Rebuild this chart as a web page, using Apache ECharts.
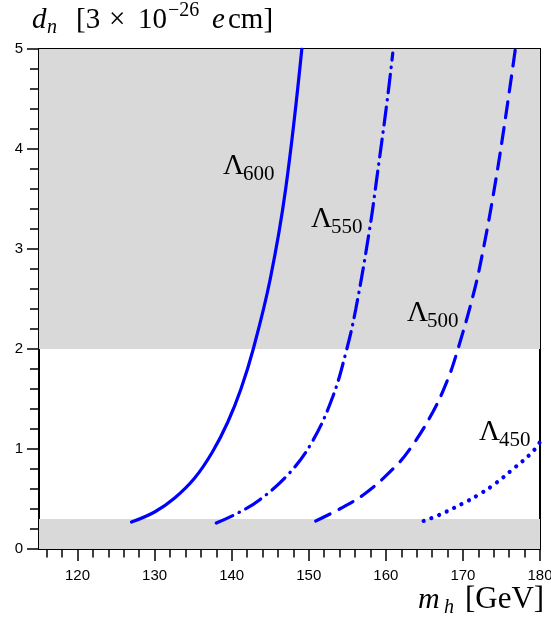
<!DOCTYPE html>
<html>
<head>
<meta charset="utf-8">
<script src="https://cdn.jsdelivr.net/npm/echarts@6/dist/echarts.min.js"></script>
<style>
  html, body { margin: 0; padding: 0; background: #fff; }
  #chart { width: 551px; height: 622px; }
</style>
</head>
<body>
<div id="chart"></div>
<script>
// values: m_h [GeV] against d_n [3e-26 e cm]
var mh600 = [127, 130, 132.6, 135.2, 137.5, 139.5, 141.2, 142.8, 145, 147, 149.1];
var dn600 = [0.27, 0.37, 0.51, 0.71, 0.97, 1.27, 1.6, 2.0, 2.7, 3.6, 5.0];

var mh550 = [138, 140.8, 143.6, 147.5, 150.5, 153.1, 154.8, 156.1, 157.9, 158.9, 160.2, 160.9];
var dn550 = [0.26, 0.36, 0.49, 0.76, 1.08, 1.52, 1.96, 2.4, 3.2, 3.75, 4.5, 4.96];

var mh500 = [150.9, 154, 157.4, 161.3, 163.4, 166.1, 168, 169.2, 171.4, 172.7, 174.2, 175.5, 176.8];
var dn500 = [0.28, 0.4, 0.56, 0.83, 1.03, 1.37, 1.69, 1.96, 2.56, 3.02, 3.66, 4.3, 5.0];

var mh450 = [164.9, 166.9, 170.1, 172.2, 174.3, 176.5, 178.9, 180];
var dn450 = [0.28, 0.34, 0.46, 0.55, 0.66, 0.80, 0.96, 1.07];

var curveNames = ['600', '550', '500', '450'];

// excluded (shaded) d_n ranges
var bandLow = [0, 0.3];
var bandHigh = [2, 5];

var xMajorTicks = [120, 130, 140, 150, 160, 170, 180];
var xMinorTicks = [116, 118, 120, 122, 124, 126, 128, 130, 132, 134, 136, 138, 140, 142, 144, 146, 148,
                   150, 152, 154, 156, 158, 160, 162, 164, 166, 168, 170, 172, 174, 176, 178, 180];

function zip(xs, ys) {
    return xs.map(function (x, i) { return [x, ys[i]]; });
}

var blue = '#0000ff';
var serif = '"Liberation Serif", "DejaVu Serif", serif';
var sans = '"Liberation Sans", Arial, sans-serif';

var myChart = echarts.init(document.getElementById('chart'), null, { renderer: 'canvas' });

function curve(name, data, dash, width) {
    return {
        name: name,
        type: 'line',
        data: data,
        smooth: 0.4,
        showSymbol: false,
        silent: true,
        z: 4,
        lineStyle: { color: blue, width: width, type: dash, cap: 'round' }
    };
}

// one text piece placed by its baseline
function txt(s, x, base, size, italic) {
    return {
        type: 'text',
        silent: true,
        z: 100,
        style: {
            text: s,
            x: x,
            y: base - size * 0.31,
            font: (italic ? 'italic ' : '') + size + 'px ' + serif,
            fill: '#000',
            align: 'left',
            verticalAlign: 'middle'
        }
    };
}

function lambda(sub, x, base) {
    return [txt('\u039B', x, base, 29, false), txt(sub, x + 20, base + 6, 21, false)];
}

var graphics = [
    // y title
    txt('d', 32, 29, 29, true),
    txt('n', 47, 34, 20, true),
    txt('[3', 76, 29, 29, false),
    txt('\u00D7', 109, 29, 29, false),
    txt('10', 138, 29, 29, false),
    txt('\u221226', 168, 17, 20, false),
    txt('e', 212, 29, 29, true),
    txt('cm]', 228, 29, 29, false),
    // x title
    txt('m', 418, 609, 30, true),
    txt('h', 444, 614, 20, true),
    txt('[GeV]', 465, 609, 31, false)
].concat(
    lambda(curveNames[0], 223, 175),
    lambda(curveNames[1], 311, 228),
    lambda(curveNames[2], 407, 322),
    lambda(curveNames[3], 479, 441)
);

var option = {
    animation: false,
    backgroundColor: '#fff',
    grid: { left: 39, right: 11, top: 49, bottom: 73, containLabel: false, outerBoundsMode: 'none' },
    xAxis: [
        {
            type: 'value', min: 115, max: 180, position: 'bottom',
            axisLine: { show: true, onZero: false, lineStyle: { color: '#000', width: 2 } },
            axisTick: { show: true, length: 12, customValues: xMajorTicks, lineStyle: { color: '#000', width: 1.5 } },
            axisLabel: { customValues: xMajorTicks, color: '#000', fontSize: 15, fontFamily: sans, margin: 19 },
            splitLine: { show: false }
        },
        {
            type: 'value', min: 115, max: 180, position: 'bottom',
            axisLine: { show: false, onZero: false },
            axisTick: { show: true, length: 8.5, customValues: xMinorTicks, lineStyle: { color: '#000', width: 1.5 } },
            axisLabel: { show: false },
            splitLine: { show: false }
        },
        {
            type: 'value', min: 115, max: 180, position: 'top',
            axisLine: { show: true, onZero: false, lineStyle: { color: '#000', width: 2 } },
            axisTick: { show: false },
            axisLabel: { show: false },
            splitLine: { show: false }
        }
    ],
    yAxis: [
        {
            type: 'value', min: 0, max: 5, interval: 1, position: 'left',
            axisLine: { show: true, onZero: false, lineStyle: { color: '#000', width: 2 } },
            axisTick: { show: true, length: 12, lineStyle: { color: '#000', width: 1.5 } },
            minorTick: { show: true, splitNumber: 5, length: 9, lineStyle: { color: '#000', width: 1.5 } },
            axisLabel: { color: '#000', fontSize: 15, fontFamily: sans, margin: 16 },
            splitLine: { show: false }
        },
        {
            type: 'value', min: 0, max: 5, position: 'right',
            axisLine: { show: true, onZero: false, lineStyle: { color: '#000', width: 2 } },
            axisTick: { show: false },
            axisLabel: { show: false },
            splitLine: { show: false }
        }
    ],
    series: [
        {
            // shaded bands
            type: 'line',
            data: [],
            silent: true,
            z: 1,
            markArea: {
                silent: true,
                itemStyle: { color: '#d9d9d9', opacity: 1 },
                data: [
                    [{ yAxis: bandLow[0] }, { yAxis: bandLow[1] }],
                    [{ yAxis: bandHigh[0] }, { yAxis: bandHigh[1] }]
                ]
            }
        },
        curve('\u039B600', zip(mh600, dn600), 'solid', 3.2),
        curve('\u039B550', zip(mh550, dn550), [18, 7, 0.5, 7], 3.2),
        curve('\u039B500', zip(mh500, dn500), [16, 10], 3.2),
        curve('\u039B450', zip(mh450, dn450), [0.01, 8.3], 4.2)
    ],
    graphic: graphics
};
myChart.setOption(option);
</script>
</body>
</html>
